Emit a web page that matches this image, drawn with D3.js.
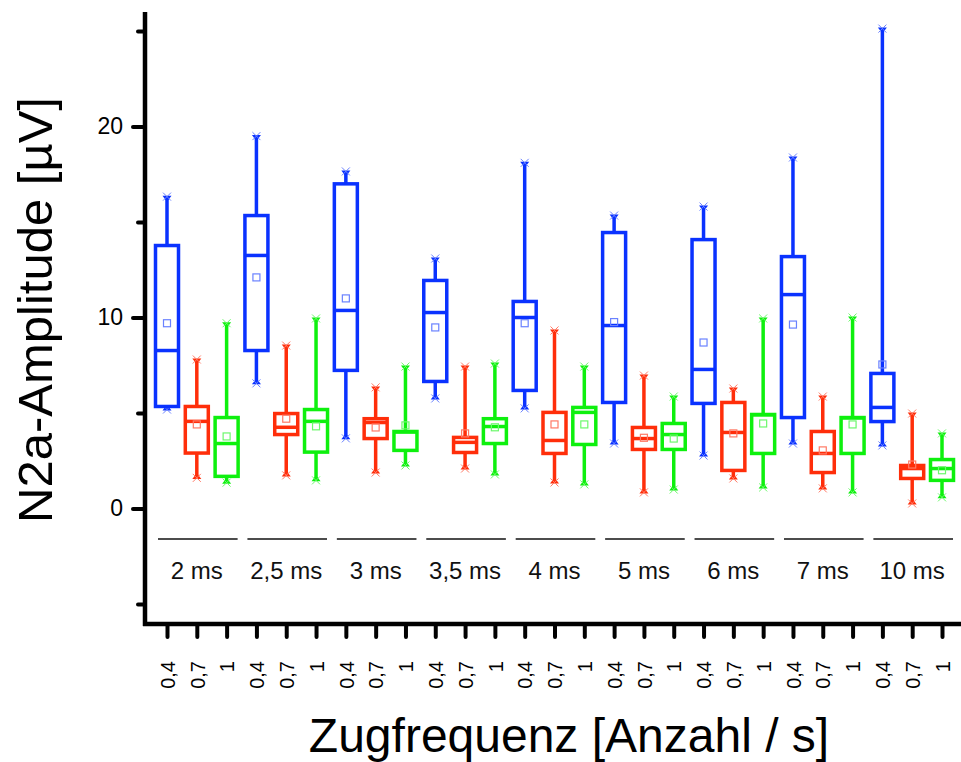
<!DOCTYPE html>
<html>
<head>
<meta charset="utf-8">
<script src="https://cdn.jsdelivr.net/npm/d3@7"></script>
<style>
  html, body { margin: 0; padding: 0; background: #fff; }
  svg { display: block; font-family: "Liberation Sans", Arial, sans-serif; }
</style>
</head>
<body>
<svg id="chart" width="961" height="762"></svg>
<script>
// Pulse durations (groups) and train frequencies (boxes inside each group)
const durations = ["2 ms", "2,5 ms", "3 ms", "3,5 ms", "4 ms", "5 ms", "6 ms", "7 ms", "10 ms"];
const frequencies = ["0,4", "0,7", "1"];
const seriesColors = ["#0a32ff", "#ff2e0a", "#0ef00e"];
const meanColors = ["#6a82ff", "#ff7a66", "#6cf86c"];

// Box statistics, one row per frequency, one value per duration (µV)
const whiskerLow = [
  [5.18, 6.55, 3.67, 5.76, 5.24, 3.40, 2.77, 3.40, 3.30],
  [1.60, 1.73, 1.88, 2.09, 1.36, 0.84, 1.57, 1.05, 0.26],
  [1.35, 1.47, 2.25, 1.78, 1.26, 0.99, 1.10, 0.84, 0.58]
];
const quartile1 = [
  [5.34, 8.27, 7.23, 6.65, 6.18, 5.55, 5.50, 4.76, 4.55],
  [2.90, 3.87, 3.66, 2.93, 2.88, 3.09, 1.99, 1.88, 1.57],
  [1.68, 2.95, 3.04, 3.40, 3.35, 3.09, 2.88, 2.88, 1.47]
];
const medians = [
  [8.27, 13.25, 10.37, 10.26, 10.00, 9.58, 7.28, 11.20, 5.29],
  [4.56, 4.25, 4.50, 3.46, 3.56, 3.66, 3.98, 2.88, 2.09],
  [3.40, 4.56, 4.00, 4.29, 5.03, 3.87, 4.90, 4.74, 2.09]
];
const quartile3 = [
  [13.77, 15.34, 17.00, 11.94, 10.84, 14.45, 14.08, 13.19, 7.07],
  [5.34, 4.97, 4.70, 3.72, 5.03, 4.24, 5.55, 4.03, 2.25],
  [4.76, 5.18, 4.03, 4.70, 5.29, 4.45, 4.92, 4.76, 2.56]
];
const whiskerHigh = [
  [16.33, 19.50, 17.65, 13.09, 18.10, 15.34, 15.81, 18.38, 25.13],
  [7.80, 8.53, 6.34, 7.43, 9.32, 6.96, 6.28, 5.86, 4.97],
  [9.70, 9.95, 7.43, 7.59, 7.43, 5.86, 9.95, 10.00, 3.93]
];
const means = [
  [9.70, 12.10, 11.00, 9.48, 9.70, 9.76, 8.69, 9.63, 7.54],
  [4.40, 4.70, 4.24, 3.93, 4.40, 3.70, 3.93, 3.04, 2.30],
  [3.77, 4.30, 4.35, 4.25, 4.40, 3.66, 4.45, 4.40, 2.00]
];

const yMajorTicks = [0, 10, 20];
const yMinorTicks = [-5, 5, 15, 25];
const yTitle = "N2a-Amplitude [µV]";
const xTitle = "Zugfrequenz [Anzahl / s]";

// Flattened list of boxes in drawing order
const boxes = [];
durations.forEach((d, g) => {
  frequencies.forEach((f, s) => {
    boxes.push({
      key: g + "|" + s, group: g, series: s, label: f,
      lo: whiskerLow[s][g], q1: quartile1[s][g], med: medians[s][g],
      q3: quartile3[s][g], hi: whiskerHigh[s][g], mean: means[s][g]
    });
  });
});

const svg = d3.select("#chart");
const axisLeftX = 145, axisBottomY = 624, axisRightX = 961;

const y = d3.scaleLinear().domain([-6, 26]).range([623, 12]);
const x = d3.scalePoint().domain(boxes.map(b => b.key)).range([167, 942]);

// Y axis: major ticks with labels, minor ticks without
const yMajor = d3.axisLeft(y).tickValues(yMajorTicks).tickSize(12).tickPadding(10).tickSizeOuter(0);
const yMinor = d3.axisLeft(y).tickValues(yMinorTicks).tickSize(7).tickFormat("").tickSizeOuter(0);

const gYMinor = svg.append("g").attr("transform", `translate(${axisLeftX},0)`).call(yMinor);
const gYMajor = svg.append("g").attr("transform", `translate(${axisLeftX},0)`).call(yMajor);
[gYMinor, gYMajor].forEach(g => {
  g.select(".domain").remove();
  g.selectAll(".tick line").attr("stroke", "#000").attr("stroke-width", 4).attr("stroke-linecap", "round");
});
gYMajor.selectAll(".tick text").attr("font-size", 23).attr("fill", "#000")
  .attr("font-family", "'Liberation Sans', Arial, sans-serif");

// X axis ticks with rotated frequency labels
const xAxis = d3.axisBottom(x).tickSize(13).tickPadding(0).tickSizeOuter(0)
  .tickFormat(k => boxes.find(b => b.key === k).label);
const gX = svg.append("g").attr("transform", `translate(0,${axisBottomY})`).call(xAxis);
gX.select(".domain").remove();
gX.selectAll(".tick line").attr("stroke", "#000").attr("stroke-width", 4).attr("stroke-linecap", "round");
gX.selectAll(".tick text")
  .attr("font-size", 20).attr("fill", "#000")
  .attr("font-family", "'Liberation Sans', Arial, sans-serif")
  .attr("text-anchor", "end")
  .attr("transform", "rotate(-90)")
  .attr("x", -37).attr("y", 0).attr("dy", "0.36em");

// Axis frame lines
svg.append("line")
  .attr("x1", axisLeftX).attr("x2", axisLeftX)
  .attr("y1", y(26)).attr("y2", axisBottomY + 2)
  .attr("stroke", "#000").attr("stroke-width", 4.5);
svg.append("line")
  .attr("x1", axisLeftX - 2).attr("x2", axisRightX)
  .attr("y1", axisBottomY).attr("y2", axisBottomY)
  .attr("stroke", "#000").attr("stroke-width", 4.5);

// Duration group separators and labels
const groupSpan = durations.map((d, g) => {
  const keys = boxes.filter(b => b.group === g).map(b => x(b.key));
  return { label: d, x0: d3.min(keys) - 9, x1: d3.max(keys) + 11, cx: d3.mean(keys) };
});
const groupLineY = 539, groupLabelY = 579;
svg.append("g").selectAll("line").data(groupSpan).join("line")
  .attr("x1", d => d.x0).attr("x2", d => d.x1)
  .attr("y1", groupLineY).attr("y2", groupLineY)
  .attr("stroke", "#111").attr("stroke-width", 1.6);
svg.append("g").selectAll("text").data(groupSpan).join("text")
  .attr("x", d => d.cx).attr("y", groupLabelY)
  .attr("text-anchor", "middle").attr("font-size", 24).attr("fill", "#111")
  .text(d => d.label);

// Box plots
const boxW = 23;
const gBox = svg.append("g").selectAll("g").data(boxes).join("g");

gBox.append("line") // upper whisker
  .attr("x1", d => x(d.key)).attr("x2", d => x(d.key))
  .attr("y1", d => y(d.q3)).attr("y2", d => y(d.hi))
  .attr("stroke", d => seriesColors[d.series]).attr("stroke-width", 3.5);
gBox.append("line") // lower whisker
  .attr("x1", d => x(d.key)).attr("x2", d => x(d.key))
  .attr("y1", d => y(d.q1)).attr("y2", d => y(d.lo))
  .attr("stroke", d => seriesColors[d.series]).attr("stroke-width", 3.5);

// Whisker end markers: filled triangle pointing inward plus a thin cross
const tri = (cx, cy, dir) => `M${cx - 4.5},${cy} L${cx + 4.5},${cy} L${cx},${cy + dir * 6} Z`;
gBox.append("path").attr("d", d => tri(x(d.key), y(d.hi) - 1, 1)).attr("fill", d => seriesColors[d.series]);
gBox.append("path").attr("d", d => tri(x(d.key), y(d.lo) + 1, -1)).attr("fill", d => seriesColors[d.series]);
const cross = (cx, cy) => `M${cx - 4},${cy - 4} L${cx + 4},${cy + 4} M${cx - 4},${cy + 4} L${cx + 4},${cy - 4}`;
gBox.append("path")
  .attr("d", d => cross(x(d.key), y(d.hi)) + cross(x(d.key), y(d.lo)))
  .attr("stroke", d => meanColors[d.series]).attr("stroke-width", 1).attr("fill", "none");

gBox.append("rect")
  .attr("x", d => x(d.key) - boxW / 2).attr("width", boxW)
  .attr("y", d => y(d.q3)).attr("height", d => y(d.q1) - y(d.q3))
  .attr("fill", "#fff").attr("stroke", d => seriesColors[d.series]).attr("stroke-width", 3.5);
gBox.append("line") // median
  .attr("x1", d => x(d.key) - boxW / 2).attr("x2", d => x(d.key) + boxW / 2)
  .attr("y1", d => y(d.med)).attr("y2", d => y(d.med))
  .attr("stroke", d => seriesColors[d.series]).attr("stroke-width", 3.5);
gBox.append("rect") // mean
  .attr("x", d => x(d.key) - 3.5).attr("y", d => y(d.mean) - 3.5)
  .attr("width", 7).attr("height", 7)
  .attr("fill", "none").attr("stroke", d => meanColors[d.series]).attr("stroke-width", 1.2);

// Axis titles
svg.append("text")
  .attr("transform", `translate(52,${310}) rotate(-90)`)
  .attr("text-anchor", "middle").attr("font-size", 49).attr("fill", "#000")
  .text(yTitle);
svg.append("text")
  .attr("x", 569).attr("y", 752)
  .attr("text-anchor", "middle").attr("font-size", 48).attr("fill", "#000")
  .text(xTitle);
</script>
</body>
</html>
